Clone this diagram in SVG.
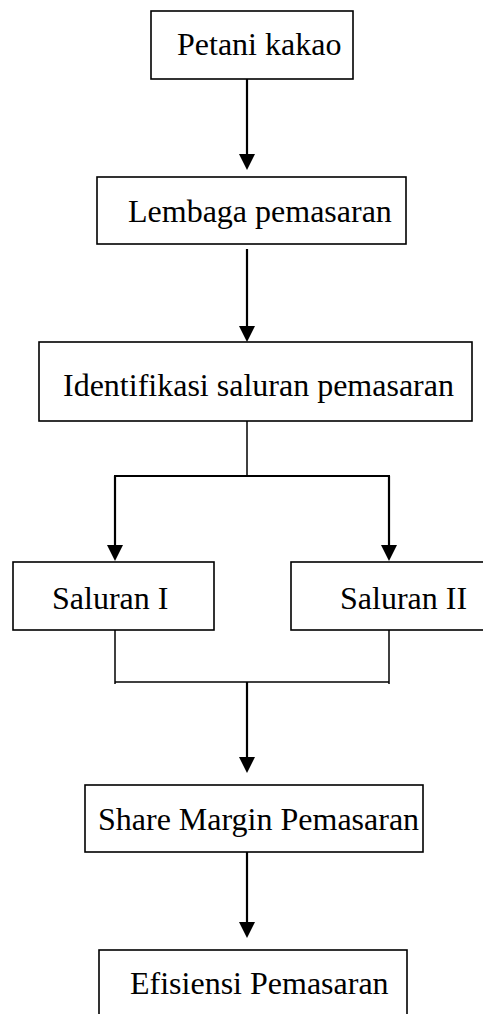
<svg xmlns="http://www.w3.org/2000/svg" width="483" height="1014" viewBox="0 0 483 1014">
<style>
.box{fill:#fff;stroke:#000;stroke-width:1.6}
.lbl{font-family:"Liberation Serif","Times New Roman",serif;font-size:32px;fill:#000}
.arr{fill:none;stroke:#000;stroke-width:2.2;marker-end:url(#ah)}
.thin{fill:none;stroke:#000;stroke-width:1.5}
.thick{fill:none;stroke:#000;stroke-width:2.2}
</style>
<defs>
<marker id="ah" markerUnits="userSpaceOnUse" viewBox="0 0 16 16" markerWidth="16" markerHeight="16" refX="8" refY="8" orient="auto">
<path d="M0,0 L16,8 L0,16 z" fill="#000"/>
</marker>
</defs>
<rect width="483" height="1014" fill="#fff"/>
<g id="connectors">
<line class="arr" x1="247" y1="79" x2="247" y2="162"/>
<line class="arr" x1="247" y1="249" x2="247" y2="334"/>
<line class="thin" x1="247" y1="421" x2="247" y2="476"/>
<line class="thick" x1="114" y1="476" x2="390" y2="476"/>
<line class="arr" x1="115" y1="476" x2="115" y2="553"/>
<line class="arr" x1="389" y1="476" x2="389" y2="553"/>
<line class="thin" x1="115" y1="630" x2="115" y2="684"/>
<line class="thin" x1="389" y1="630" x2="389" y2="684"/>
<line class="thin" x1="115" y1="682" x2="389" y2="682"/>
<line class="arr" x1="247" y1="682" x2="247" y2="765"/>
<line class="arr" x1="247" y1="852" x2="247" y2="930"/>
</g>
<g id="node-petani">
<rect class="box" x="151" y="11" width="202" height="68"/>
<text class="lbl" x="177" y="55">Petani kakao</text>
</g>
<g id="node-lembaga">
<rect class="box" x="97" y="177" width="309" height="67"/>
<text class="lbl" x="128" y="222">Lembaga pemasaran</text>
</g>
<g id="node-identifikasi">
<rect class="box" x="39" y="342" width="433" height="79"/>
<text class="lbl" x="63" y="396">Identifikasi saluran pemasaran</text>
</g>
<g id="node-saluran1">
<rect class="box" x="13" y="562" width="201" height="68"/>
<text class="lbl" x="52" y="609">Saluran I</text>
</g>
<g id="node-saluran2">
<rect class="box" x="291" y="562" width="200" height="68"/>
<text class="lbl" x="340" y="609">Saluran II</text>
</g>
<g id="node-share">
<rect class="box" x="85" y="785" width="338" height="67"/>
<text class="lbl" x="98" y="830">Share Margin Pemasaran</text>
</g>
<g id="node-efisiensi">
<rect class="box" x="99" y="950" width="308" height="80"/>
<text class="lbl" x="130" y="994">Efisiensi Pemasaran</text>
</g>
</svg>
